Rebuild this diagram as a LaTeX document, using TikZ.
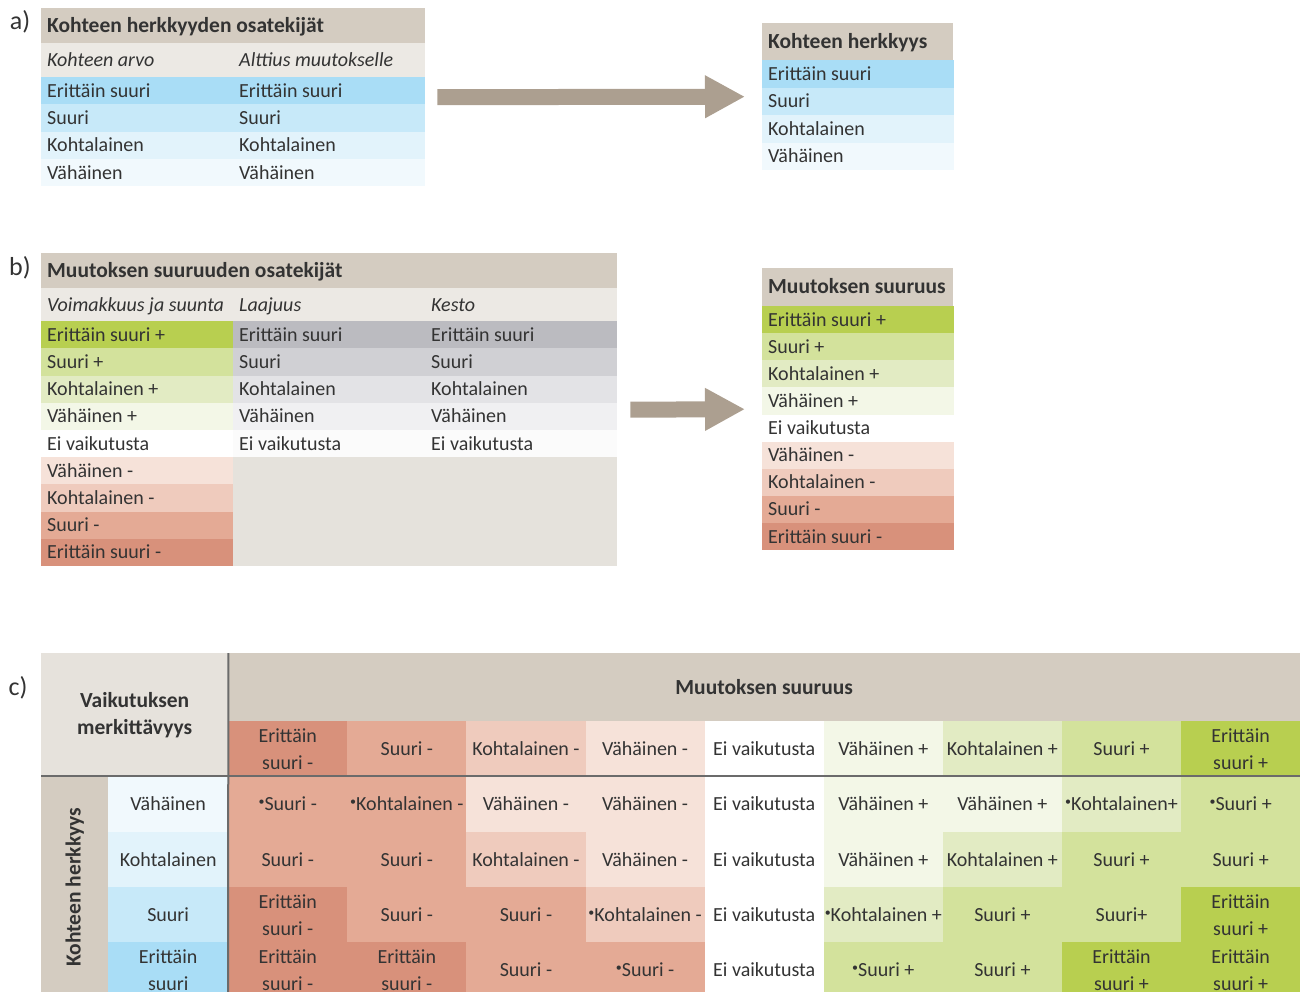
\documentclass[tikz,border=0pt]{standalone}
\usepackage{fontspec}
\setmainfont{Carlito}
\usetikzlibrary{arrows.meta}

\definecolor{txt}{HTML}{333333}
\definecolor{hdr}{HTML}{D4CCC1}
\definecolor{hdrlt}{HTML}{E6E2DC}
\definecolor{subhd}{HTML}{ECE9E4}
\definecolor{bgempty}{HTML}{E5E2DC}
\definecolor{arrowc}{HTML}{AC9F90}
\definecolor{rulec}{HTML}{6B6B6B}
% sensitivity (blue)
\definecolor{blue1}{HTML}{A9DDF6}
\definecolor{blue2}{HTML}{C7E9F9}
\definecolor{blue3}{HTML}{E2F3FB}
\definecolor{blue4}{HTML}{F1F9FD}
% extent / duration (grey)
\definecolor{grey1}{HTML}{BBBBC0}
\definecolor{grey2}{HTML}{D0D0D4}
\definecolor{grey3}{HTML}{E3E3E6}
\definecolor{grey4}{HTML}{F0F0F2}
\definecolor{grey5}{HTML}{FBFBFB}
% magnitude of change
\definecolor{plusE}{HTML}{B8CF50}
\definecolor{plusS}{HTML}{D3E29C}
\definecolor{plusK}{HTML}{E2EBC3}
\definecolor{plusV}{HTML}{F3F7E7}
\definecolor{zero}{HTML}{FFFFFF}
\definecolor{minV}{HTML}{F6E2D9}
\definecolor{minK}{HTML}{EFCBBD}
\definecolor{minS}{HTML}{E4AA95}
\definecolor{minE}{HTML}{D8917B}

\newcommand{\cellstrut}{\rule[-7pt]{0pt}{27pt}}
\newcommand{\lft}[1]{\makebox[180pt][l]{\cellstrut#1}}
\newcommand{\dotmark}{\raisebox{5pt}{\fontsize{12}{12}\selectfont •}}

\begin{document}
\begin{tikzpicture}[x=1pt, y=-1pt,
  every node/.style={text=txt, font=\fontsize{20}{27}\selectfont},
  cell/.style={anchor=north west, inner xsep=6pt, inner ysep=0pt, minimum width=192pt, minimum height=27.2pt},
  hcell/.style={cell, fill=hdr, font=\fontsize{21.5}{27}\selectfont\bfseries},
  icell/.style={cell, fill=subhd, font=\fontsize{20}{27}\selectfont\itshape},
  mcell/.style={anchor=north west, inner sep=0pt, minimum width=119.11pt, minimum height=55.4pt, align=center},
  frame/.style={anchor=north west, inner sep=0pt},
  flow/.style={draw=arrowc, line width=16pt, -{Triangle[length=40pt,width=40pt]}},
  rulel/.style={draw=rulec, line width=2pt},
  tag/.style={font=\fontsize{26}{26}\selectfont}]
\useasboundingbox (0,0) rectangle (1302,992);
\clip (0,0) rectangle (1302,992);

% a) sensitivity of the site
\node[tag] (tagA) at (20,22) {a)};
\node[frame, minimum width=384pt, minimum height=178pt] (aL) at (41,8) {};
\node[hcell, minimum width=384pt, minimum height=35pt] (aT) at (41,8) {\makebox[372pt][l]{\cellstrut Kohteen herkkyyden osatekijät}};
\node[icell, minimum height=34pt] (aS1) at (41,43) {\lft{Kohteen arvo}};
\node[icell, minimum height=34pt] (aS2) at (233,43) {\lft{Alttius muutokselle}};
\foreach \t/\c [count=\i] in {Erittäin suuri/blue1, Suuri/blue2, Kohtalainen/blue3, Vähäinen/blue4}{
  \node[cell, fill=\c, minimum height=27.25pt] (aA\i) at (41,{77+27.25*(\i-1)}) {\lft{\t}};
  \node[cell, fill=\c, minimum height=27.25pt] (aB\i) at (233,{77+27.25*(\i-1)}) {\lft{\t}};
}

\node[frame, minimum width=191pt, minimum height=147pt] (aR) at (762,23) {};
\node[hcell, minimum width=191pt, minimum height=37pt] (aRT) at (762,23) {\makebox[179pt][l]{\cellstrut Kohteen herkkyys}};
\foreach \t/\c [count=\i] in {Erittäin suuri/blue1, Suuri/blue2, Kohtalainen/blue3, Vähäinen/blue4}
  \node[cell, fill=\c, minimum width=191pt, minimum height=27.5pt] (aR\i) at (762,{60+27.5*(\i-1)}) {\lft{\t}};

\draw[flow] ([xshift=12pt]aL.east) -- ([xshift=-17pt]aR.west);

% b) magnitude of change
\node[tag] (tagB) at (20,268) {b)};
\node[frame, fill=bgempty, minimum width=576pt, minimum height=313pt] (bL) at (41,253) {};
\node[hcell, minimum width=576pt, minimum height=35pt] (bT) at (41,253) {\makebox[564pt][l]{\cellstrut Muutoksen suuruuden osatekijät}};
\node[icell, minimum height=33pt] (bS1) at (41,288) {\lft{Voimakkuus ja suunta}};
\node[icell, minimum height=33pt] (bS2) at (233,288) {\lft{Laajuus}};
\node[icell, minimum height=33pt] (bS3) at (425,288) {\lft{Kesto}};
\foreach \t/\c [count=\i] in {Erittäin suuri +/plusE, Suuri +/plusS, Kohtalainen +/plusK, Vähäinen +/plusV, Ei vaikutusta/zero, Vähäinen -/minV, Kohtalainen -/minK, Suuri -/minS, Erittäin suuri -/minE}
  \node[cell, fill=\c] (bA\i) at (41,{321+27.2*(\i-1)}) {\lft{\t}};
\foreach \t/\c [count=\i] in {Erittäin suuri/grey1, Suuri/grey2, Kohtalainen/grey3, Vähäinen/grey4, Ei vaikutusta/grey5}{
  \node[cell, fill=\c] (bB\i) at (233,{321+27.2*(\i-1)}) {\lft{\t}};
  \node[cell, fill=\c] (bC\i) at (425,{321+27.2*(\i-1)}) {\lft{\t}};
}

\node[frame, minimum width=191pt, minimum height=282pt] (bR) at (762,268) {};
\node[hcell, minimum width=191pt, minimum height=38pt] (bRT) at (762,268) {\makebox[179pt][l]{\cellstrut Muutoksen suuruus}};
\foreach \t/\c [count=\i] in {Erittäin suuri +/plusE, Suuri +/plusS, Kohtalainen +/plusK, Vähäinen +/plusV, Ei vaikutusta/zero, Vähäinen -/minV, Kohtalainen -/minK, Suuri -/minS, Erittäin suuri -/minE}
  \node[cell, fill=\c, minimum width=191pt, minimum height=27.1pt] (bR\i) at (762,{306+27.1*(\i-1)}) {\lft{\t}};

\draw[flow] ([xshift=13pt]bL.east) -- ([xshift=-17pt]bR.west);

% c) significance of the impact
\node[tag] (tagC) at (18,688) {c)};
\node[frame, fill=hdrlt, minimum width=187pt, minimum height=123pt, align=center, font=\fontsize{21.5}{27}\selectfont\bfseries] (cCorner) at (41,653) {Vaikutuksen\\merkittävyys};
\node[frame, fill=hdr, minimum width=1072pt, minimum height=68pt, font=\fontsize{21.5}{27}\selectfont\bfseries] (cTop) at (228,653) {Muutoksen suuruus};
\foreach \c/\t [count=\j] in {minE/{Erittäin\\suuri -}, minS/Suuri -, minK/Kohtalainen -, minV/Vähäinen -, zero/Ei vaikutusta, plusV/Vähäinen +, plusK/Kohtalainen +, plusS/Suuri +, plusE/{Erittäin\\suuri +}}
  \node[mcell, fill=\c, minimum height=55pt] (cH\j) at ({228+119.11*(\j-1)},721) {\t};

\node[frame, fill=hdr, minimum width=67pt, minimum height=222pt] (cSide) at (41,776) {};
\node[rotate=90, font=\fontsize{21.5}{27}\selectfont\bfseries] (cSideT) at (cSide.center) {Kohteen herkkyys};
\foreach \c/\t [count=\i] in {blue4/Vähäinen, blue3/Kohtalainen, blue2/Suuri, blue1/{Erittäin\\suuri}}
  \node[mcell, fill=\c, minimum width=120pt] (cR\i) at (108,{776+55.4*(\i-1)}) {\t};

\foreach \c/\t [count=\j] in {minS/{\dotmark Suuri -}, minS/{\dotmark Kohtalainen -}, minV/Vähäinen -, minV/Vähäinen -, zero/Ei vaikutusta, plusV/Vähäinen +, plusV/Vähäinen +, plusK/{\dotmark Kohtalainen+}, plusS/{\dotmark Suuri +}}
  \node[mcell, fill=\c] (m1-\j) at ({228+119.11*(\j-1)},776) {\t};
\foreach \c/\t [count=\j] in {minS/Suuri -, minS/Suuri -, minK/Kohtalainen -, minV/Vähäinen -, zero/Ei vaikutusta, plusV/Vähäinen +, plusK/Kohtalainen +, plusS/Suuri +, plusS/Suuri +}
  \node[mcell, fill=\c] (m2-\j) at ({228+119.11*(\j-1)},831.4) {\t};
\foreach \c/\t [count=\j] in {minE/{Erittäin\\suuri -}, minS/Suuri -, minS/Suuri -, minK/{\dotmark Kohtalainen -}, zero/Ei vaikutusta, plusK/{\dotmark Kohtalainen +}, plusS/Suuri +, plusS/Suuri+, plusE/{Erittäin\\suuri +}}
  \node[mcell, fill=\c] (m3-\j) at ({228+119.11*(\j-1)},886.8) {\t};
\foreach \c/\t [count=\j] in {minE/{Erittäin\\suuri -}, minE/{Erittäin\\suuri -}, minS/Suuri -, minS/{\dotmark Suuri -}, zero/Ei vaikutusta, plusS/{\dotmark Suuri +}, plusS/Suuri +, plusE/{Erittäin\\suuri +}, plusE/{Erittäin\\suuri +}}
  \node[mcell, fill=\c] (m4-\j) at ({228+119.11*(\j-1)},942.2) {\t};

\draw[rulel] (cCorner.south west) -- (cH9.south east);
\draw[rulel] (cCorner.north east) -- (228,998);
\end{tikzpicture}
\end{document}
